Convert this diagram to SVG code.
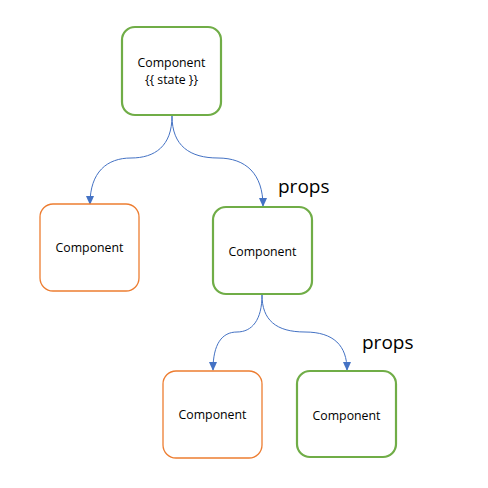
<svg xmlns="http://www.w3.org/2000/svg" width="488" height="488" viewBox="0 0 488 488">
<defs>
<style>
.g{fill:#fff;stroke:#70AD47;stroke-width:2.2}
.o{fill:#fff;stroke:#ED7D31;stroke-width:1.3}
.t{font-family:"Open Sans","Liberation Sans",sans-serif;font-size:12.3px;fill:#000;text-anchor:middle}
.p{font-family:"Open Sans","Liberation Sans",sans-serif;font-size:19px;fill:#000}
.c{fill:none;stroke:#4472C4;stroke-width:1}
</style>
<marker id="ah" markerWidth="9" markerHeight="8" refX="8" refY="4" orient="auto" markerUnits="userSpaceOnUse">
<path d="M0,0 L9,4 L0,8 Z" fill="#4472C4"/>
</marker>
</defs>
<rect width="488" height="488" fill="#fff"/>
<g id="connectors">
<path class="c" marker-end="url(#ah)" d="M172,116 C172,146 155,158 131,158 C107,158 90,172 90,204"/>
<path class="c" marker-end="url(#ah)" d="M172,116 C172,146 190,158 218,158 C246,158 263,174 263,206"/>
<path class="c" marker-end="url(#ah)" d="M262,295 C262,320 252,332 237,332 C222,332 213,344 213,370"/>
<path class="c" marker-end="url(#ah)" d="M262,295 C262,320 276,332 305,332 C334,332 347,346 347,370"/>
</g>
<g id="n1"><rect class="g" x="122" y="27" width="99" height="88" rx="13"/><text class="t" x="171.5" y="67">Component</text><text class="t" x="171.5" y="84">{{ state }}</text></g>
<g id="n2"><rect class="o" x="40" y="204" width="99" height="87" rx="13"/><text class="t" x="89.5" y="252">Component</text></g>
<g id="n3"><rect class="g" x="213" y="207" width="99" height="87" rx="13"/><text class="t" x="262.5" y="256">Component</text></g>
<g id="n4"><rect class="o" x="163" y="371" width="99" height="87" rx="13"/><text class="t" x="212.5" y="419">Component</text></g>
<g id="n5"><rect class="g" x="297" y="371" width="99" height="86" rx="13"/><text class="t" x="346.5" y="420">Component</text></g>
<text class="p" x="278" y="193">props</text>
<text class="p" x="362" y="349">props</text>
</svg>
